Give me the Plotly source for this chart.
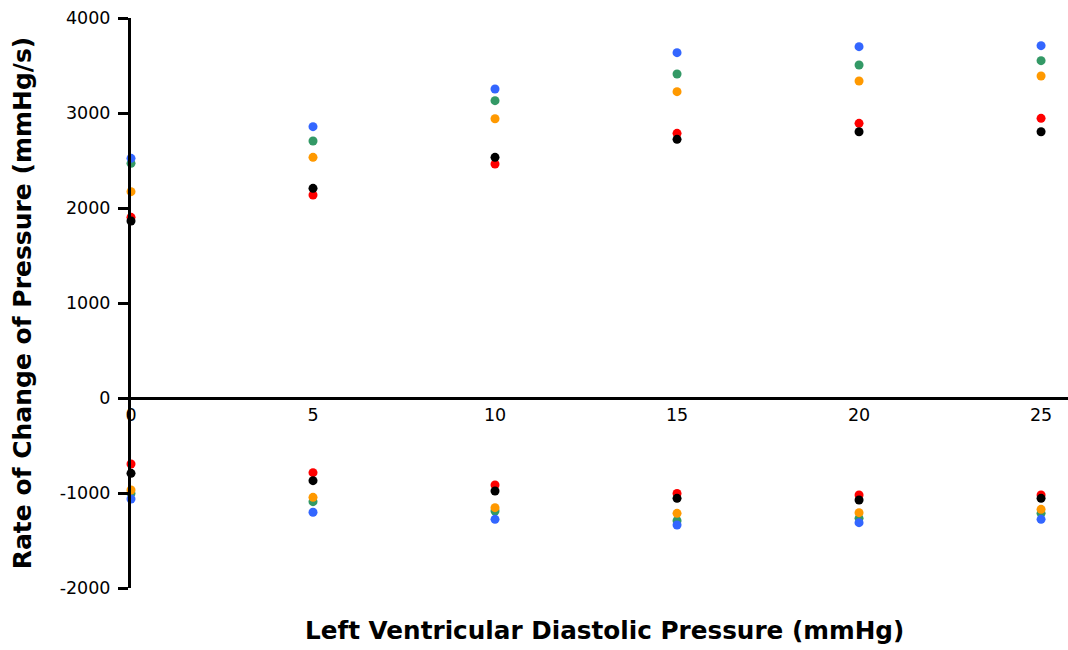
import plotly.graph_objects as go

x_vals = [0, 5, 10, 15, 20, 25]

# positive (max dP/dt) series
blue_pos = [2523, 2856, 3253, 3635, 3698, 3709]
green_pos = [2470, 2705, 3130, 3411, 3505, 3551]
orange_pos = [2172, 2533, 2940, 3225, 3337, 3389]
red_pos = [1902, 2137, 2463, 2786, 2891, 2944]
black_pos = [1863, 2207, 2533, 2723, 2803, 2803]

# negative (min dP/dt) series
blue_neg = [-1063, -1203, -1277, -1337, -1312, -1277]
green_neg = [-1004, -1091, -1189, -1291, -1267, -1214]
orange_neg = [-968, -1046, -1154, -1214, -1207, -1172]
red_neg = [-695, -786, -916, -1004, -1021, -1021]
black_neg = [-793, -870, -979, -1056, -1074, -1056]

y_ticks = [-2000, -1000, 0, 1000, 2000, 3000, 4000]
y_tick_text = ["-2000", "-1000", "0", "1000", "2000", "3000", "4000"]
x_ticks = [0, 5, 10, 15, 20, 25]

series = [
    ("green", "#339966", green_pos, green_neg),
    ("blue", "#3366FF", blue_pos, blue_neg),
    ("orange", "#FF9900", orange_pos, orange_neg),
    ("red", "#FF0000", red_pos, red_neg),
    ("black", "#000000", black_pos, black_neg),
]

fig = go.Figure()
for name, color, pos, neg in series:
    fig.add_trace(go.Scatter(x=x_vals + x_vals, y=pos + neg, mode="markers",
                             marker=dict(color=color, size=9), name=name,
                             showlegend=False, cliponaxis=False))

font_family = "DejaVu Sans, Verdana, sans-serif"
fig.update_layout(
    width=1068, height=650,
    margin=dict(l=131, r=0, t=18, b=62),
    plot_bgcolor="white", paper_bgcolor="white",
    font=dict(family=font_family, size=17, color="black"),
    xaxis=dict(range=[0, 25.74], tickvals=x_ticks, ticks="",
               showline=True, linecolor="black",
               linewidth=3, showgrid=False, zeroline=False, anchor="free",
               position=1/3, tickfont=dict(size=17.5)),
    yaxis=dict(range=[-2000, 4000], tickvals=y_ticks, ticktext=y_tick_text,
               ticks="outside", ticklen=10, tickwidth=3, tickcolor="black",
               ticklabelstandoff=4,
               showline=True, linecolor="black", linewidth=3, showgrid=False,
               zeroline=False, tickfont=dict(size=17.5), automargin=False,
               title=dict(text="<b>Rate of Change of Pressure (mmHg/s)</b>",
                          font=dict(size=25), standoff=21)),
    annotations=[dict(text="<b>Left Ventricular Diastolic Pressure (mmHg)</b>",
                      x=0.505, y=-0.075, xref="paper", yref="paper",
                      showarrow=False, font=dict(size=24.7), yanchor="middle")],
)

fig.write_html("out.html")
